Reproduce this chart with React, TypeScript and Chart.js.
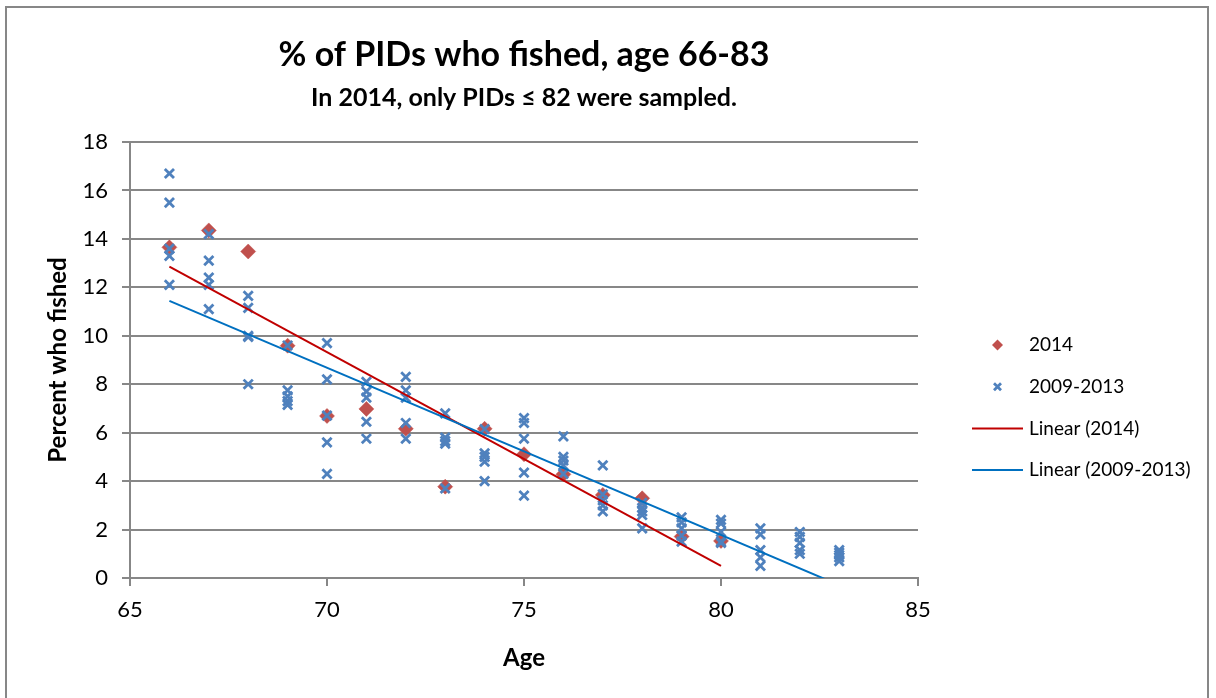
import React, { useEffect, useRef } from 'react';
import { Chart, registerables } from 'chart.js';

Chart.register(...registerables);

// ---- Data ----
const titleText = '% of PIDs who fished, age 66-83';
const subtitleText = 'In 2014, only PIDs ≤ 82 were sampled.';
const xAxisTitle = 'Age';
const yAxisTitle = 'Percent who fished';

const label2014 = '2014';
const label0913 = '2009-2013';
const labelLin2014 = 'Linear (2014)';
const labelLin0913 = 'Linear (2009-2013)';

const ages2014 = [66, 67, 68, 69, 70, 71, 72, 73, 74, 75, 76, 77, 78, 79, 80];
const pct2014 = [13.65, 14.35, 13.48, 9.59, 6.69, 6.98, 6.16, 3.77, 6.16, 5.11, 4.28, 3.43, 3.29, 1.71, 1.53];

const ages0913 = [66, 67, 68, 69, 70, 71, 72, 73, 74, 75, 76, 77, 78, 79, 80, 81, 82, 83];
const pct0913 = [
  [16.7, 15.5, 13.6, 13.3, 12.1],
  [14.2, 13.1, 12.4, 12.1, 11.1],
  [11.65, 11.15, 10.0, 9.95, 8.0],
  [9.6, 7.75, 7.5, 7.3, 7.15],
  [9.7, 8.2, 6.7, 5.6, 4.3],
  [8.1, 7.7, 7.45, 6.45, 5.75],
  [8.3, 7.75, 7.45, 6.4, 5.75],
  [6.8, 5.8, 5.65, 5.55, 3.7],
  [6.15, 5.15, 5.0, 4.8, 4.0],
  [6.6, 6.4, 5.75, 4.35, 3.4],
  [5.85, 5.0, 4.85, 4.65, 4.3],
  [4.65, 3.45, 3.2, 3.0, 2.75],
  [3.1, 2.9, 2.75, 2.6, 2.05],
  [2.5, 2.3, 2.05, 1.75, 1.5],
  [2.4, 2.25, 1.9, 1.5, 1.45],
  [2.05, 1.8, 1.15, 0.85, 0.5],
  [1.9, 1.7, 1.45, 1.15, 1.0],
  [1.15, 1.05, 0.95, 0.85, 0.7],
];

const xTicks = [65, 70, 75, 80, 85];
const yTicks = [0, 2, 4, 6, 8, 10, 12, 14, 16, 18];

// ---- Helpers ----
function linearFit(xs: number[], ys: number[]) {
  const n = xs.length;
  const mx = xs.reduce((a, b) => a + b, 0) / n;
  const my = ys.reduce((a, b) => a + b, 0) / n;
  let sxy = 0;
  let sxx = 0;
  for (let i = 0; i < n; i++) {
    sxy += (xs[i] - mx) * (ys[i] - my);
    sxx += (xs[i] - mx) * (xs[i] - mx);
  }
  const slope = sxy / sxx;
  const intercept = my - slope * mx;
  const x0 = Math.min(...xs);
  const x1 = Math.max(...xs);
  return [
    { x: x0, y: intercept + slope * x0 },
    { x: x1, y: intercept + slope * x1 },
  ];
}

const FONT = 'Lato';
const GRID = '#878787';

const legendPlugin = {
  id: 'excelLegend',
  afterDraw(chart: any) {
    const { ctx, chartArea } = chart;
    const lineStart = chartArea.right + 54;
    const lineLen = 51;
    const cx = lineStart + lineLen / 2;
    const textX = chartArea.right + 111;
    chart.data.datasets.forEach((ds: any, i: number) => {
      const y = chartArea.top + 203 + i * 41.7;
      ctx.save();
      if (ds.showLine) {
        ctx.strokeStyle = ds.borderColor;
        ctx.lineWidth = 2;
        ctx.beginPath();
        ctx.moveTo(lineStart, y);
        ctx.lineTo(lineStart + lineLen, y);
        ctx.stroke();
      } else if (ds.pointStyle === 'rectRot') {
        const r = 5.5;
        ctx.fillStyle = ds.backgroundColor;
        ctx.beginPath();
        ctx.moveTo(cx, y - r);
        ctx.lineTo(cx + r, y);
        ctx.lineTo(cx, y + r);
        ctx.lineTo(cx - r, y);
        ctx.closePath();
        ctx.fill();
      } else {
        const r = 3.5;
        ctx.strokeStyle = ds.borderColor;
        ctx.lineWidth = 2.8;
        ctx.beginPath();
        ctx.moveTo(cx - r, y - r);
        ctx.lineTo(cx + r, y + r);
        ctx.moveTo(cx + r, y - r);
        ctx.lineTo(cx - r, y + r);
        ctx.stroke();
      }
      ctx.fillStyle = '#000';
      ctx.font = `19px ${FONT}`;
      ctx.textBaseline = 'middle';
      ctx.textAlign = 'left';
      ctx.fillText(ds.label, textX, y);
      ctx.restore();
    });
  },
};

export default function App() {
  const canvasRef = useRef<HTMLCanvasElement | null>(null);

  useEffect(() => {
    if (!canvasRef.current) return;

    const points2014 = ages2014.map((a, i) => ({ x: a, y: pct2014[i] }));
    const points0913: { x: number; y: number }[] = [];
    const flatX: number[] = [];
    const flatY: number[] = [];
    ages0913.forEach((a, i) => {
      pct0913[i].forEach((v) => {
        points0913.push({ x: a, y: v });
        flatX.push(a);
        flatY.push(v);
      });
    });

    const chart = new Chart(canvasRef.current, {
      type: 'scatter',
      data: {
        datasets: [
          {
            label: label2014,
            data: points2014,
            pointStyle: 'rectRot',
            pointRadius: 7.5,
            backgroundColor: '#C0504D',
            borderColor: '#C0504D',
            borderWidth: 0.5,
            order: 4,
          } as any,
          {
            label: label0913,
            data: points0913,
            pointStyle: 'crossRot',
            pointRadius: 6.5,
            backgroundColor: '#4F81BD',
            borderColor: '#4F81BD',
            borderWidth: 2.8,
            order: 3,
          } as any,
          {
            label: labelLin2014,
            data: linearFit(ages2014, pct2014),
            showLine: true,
            pointRadius: 0,
            borderColor: '#C00000',
            backgroundColor: '#C00000',
            borderWidth: 2,
            clip: 0,
            order: 2,
          } as any,
          {
            label: labelLin0913,
            data: linearFit(flatX, flatY),
            showLine: true,
            pointRadius: 0,
            borderColor: '#0070C0',
            backgroundColor: '#0070C0',
            borderWidth: 2,
            clip: 0,
            order: 1,
          } as any,
        ],
      },
      options: {
        responsive: true,
        maintainAspectRatio: false,
        animation: false,
        events: [],
        layout: { padding: { left: 0, right: 289, top: 0, bottom: 0 } },
        plugins: {
          legend: { display: false },
          tooltip: { enabled: false },
          title: {
            display: true,
            text: titleText,
            color: '#000',
            fullSize: false,
            font: { family: FONT, size: 34, weight: 'bold' },
            padding: { top: 26.6, bottom: 0 },
          },
          subtitle: {
            display: true,
            text: subtitleText,
            color: '#000',
            fullSize: false,
            font: { family: FONT, size: 25, weight: 'bold' },
            padding: { top: 7.6, bottom: 29 },
          },
        },
        scales: {
          x: {
            type: 'linear',
            min: 65,
            max: 85,
            afterBuildTicks: (s: any) => {
              s.ticks = xTicks.map((v) => ({ value: v }));
            },
            afterFit: (s: any) => {
              s.height = 120;
            },
            ticks: {
              color: '#000',
              font: { family: FONT, size: 22 },
              padding: 11,
              maxRotation: 0,
            },
            grid: {
              drawOnChartArea: false,
              drawTicks: true,
              tickLength: 8,
              color: GRID,
              lineWidth: 2,
            },
            border: { display: true, color: GRID, width: 2 },
            title: {
              display: true,
              text: xAxisTitle,
              color: '#000',
              font: { family: FONT, size: 24, weight: 'bold' },
              padding: { top: 4, bottom: 25.6 },
            },
          },
          y: {
            type: 'linear',
            min: 0,
            max: 18,
            afterBuildTicks: (s: any) => {
              s.ticks = yTicks.map((v) => ({ value: v }));
            },
            afterFit: (s: any) => {
              s.width = 123;
            },
            ticks: {
              color: '#000',
              font: { family: FONT, size: 22 },
              padding: 14,
            },
            grid: {
              drawOnChartArea: true,
              drawTicks: true,
              tickLength: 8,
              color: GRID,
              lineWidth: 2,
            },
            border: { display: true, color: GRID, width: 2 },
            title: {
              display: true,
              text: yAxisTitle,
              color: '#000',
              font: { family: FONT, size: 24, weight: 'bold' },
              padding: { top: 36.6, bottom: 0 },
            },
          },
        },
      } as any,
      plugins: [legendPlugin],
    });

    return () => {
      chart.destroy();
    };
  }, []);

  return (
    <div
      style={{
        position: 'absolute',
        left: 5,
        top: 6,
        width: 1204,
        height: 692,
        boxSizing: 'border-box',
        borderTop: '2px solid #878787',
        borderLeft: '2px solid #878787',
        borderRight: '2px solid #878787',
        background: '#fff',
      }}
    >
      <div style={{ position: 'relative', width: 1200, height: 690 }}>
        <canvas ref={canvasRef} />
      </div>
    </div>
  );
}
